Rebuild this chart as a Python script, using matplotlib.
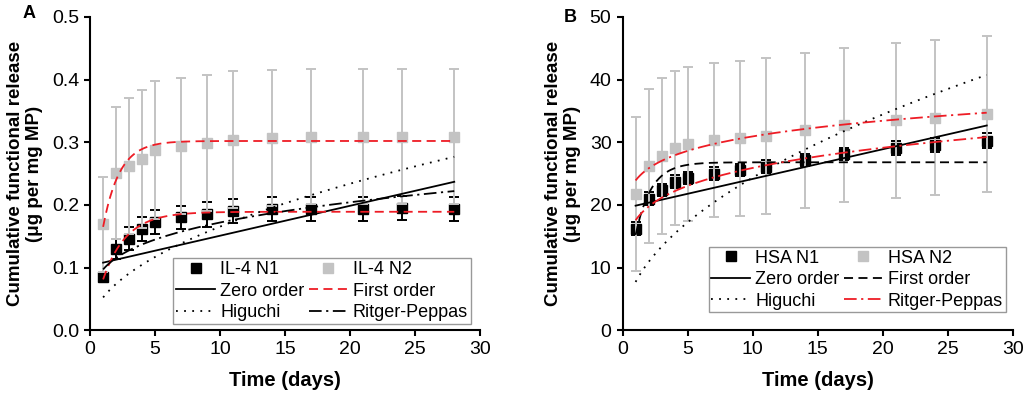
import numpy as np
import matplotlib.pyplot as plt
from matplotlib.lines import Line2D

plt.rcParams['font.family'] = ['Liberation Sans', 'DejaVu Sans']

days = [1, 2, 3, 4, 5, 7, 9, 11, 14, 17, 21, 24, 28]

# Panel A: IL-4
il4_n1 = [0.085, 0.130, 0.146, 0.161, 0.173, 0.180, 0.185, 0.190, 0.193, 0.193, 0.194, 0.195, 0.194]
il4_n1_err = [0.005, 0.016, 0.018, 0.019, 0.019, 0.019, 0.020, 0.019, 0.019, 0.019, 0.019, 0.019, 0.019]
il4_n2 = [0.169, 0.251, 0.262, 0.273, 0.287, 0.294, 0.299, 0.304, 0.307, 0.309, 0.309, 0.309, 0.309]
il4_n2_err = [0.076, 0.106, 0.109, 0.110, 0.110, 0.109, 0.109, 0.109, 0.109, 0.108, 0.108, 0.108, 0.108]

# Panel B: HSA
hsa_n1 = [16.2, 21.0, 22.4, 23.7, 24.3, 25.0, 25.6, 26.1, 27.2, 28.1, 29.1, 29.6, 30.2]
hsa_n1_err = [1.0, 1.0, 1.0, 1.0, 1.0, 1.0, 1.0, 1.0, 1.0, 1.0, 1.1, 1.1, 1.2]
hsa_n2 = [21.8, 26.2, 27.8, 29.1, 29.7, 30.3, 30.6, 31.0, 31.9, 32.7, 33.5, 33.9, 34.5]
hsa_n2_err = [12.3, 12.3, 12.4, 12.3, 12.3, 12.3, 12.3, 12.4, 12.4, 12.3, 12.4, 12.4, 12.4]

# fitted model parameters
il4_zero = (0.103, 0.00478)        # Q0, k
il4_first_n1 = (0.189, 0.56)       # Qmax, k
il4_first_n2 = (0.302, 0.79)
il4_higuchi = 0.0523               # k
il4_peppas = (0.097, 0.2485)       # k, n

hsa_zero = (19.4, 0.474)
hsa_first = (26.8, 0.837)
hsa_higuchi = 7.7
hsa_peppas_n1 = (17.55, 0.169)
hsa_peppas_n2 = (23.9, 0.112)

RED = '#ee1c25'
GRAY = '#c3c3c3'
DOT = (0, (1, 3.5))
DASH = (0, (5, 3))
DASHDOT = (0, (7, 2.5, 1.2, 2.5))

t = np.linspace(1, 28, 300)


def zero(p):
    return p[0] + p[1] * t


def first(p):
    return p[0] * (1 - np.exp(-p[1] * t))


def higuchi(k):
    return k * np.sqrt(t)


def peppas(p):
    return p[0] * t ** p[1]


def draw_data(ax, y1, e1, y2, e2):
    ax.errorbar(days, y1, yerr=e1, fmt='s', color='black', ms=6.5,
                ecolor='black', elinewidth=1.4, capsize=3.5, capthick=1.4, zorder=2)
    ax.errorbar(days, y2, yerr=e2, fmt='s', color=GRAY, ms=6.5,
                ecolor=GRAY, elinewidth=1.4, capsize=3.5, capthick=1.4, zorder=3)


def style_axes(ax, ymax, step, fmt):
    ax.set_xlim(0, 30)
    ax.set_ylim(0, ymax)
    ax.set_xticks(range(0, 31, 5))
    ax.set_yticks(np.arange(0, ymax + step / 2, step))
    ax.yaxis.set_major_formatter(plt.FormatStrFormatter(fmt))
    for s in ['top', 'right']:
        ax.spines[s].set_visible(False)
    for s in ['left', 'bottom']:
        ax.spines[s].set_linewidth(1.5)
    ax.tick_params(direction='out', length=4, width=1.5, labelsize=14, pad=4)
    ax.set_xlabel('Time (days)', fontsize=14.5, fontweight='bold', labelpad=9)
    ax.set_ylabel('Cumulative functional release\n(\u03bcg per mg MP)',
                  fontsize=13.5, fontweight='bold', labelpad=6)


def add_legend(ax, handles, labels, anchor):
    leg = ax.legend(handles, labels, ncol=2, loc='lower right', bbox_to_anchor=anchor,
                    fontsize=13, fancybox=False, framealpha=1, edgecolor='#999999',
                    handlelength=2.15, handletextpad=0.28, columnspacing=0.25,
                    labelspacing=0.25, borderpad=0.15, borderaxespad=0)
    leg.get_frame().set_linewidth(1.0)
    leg.set_zorder(5)


fig = plt.figure(figsize=(10.24, 3.94), dpi=100)
ax1 = fig.add_axes([0.088, 0.162, 0.381, 0.795])
ax2 = fig.add_axes([0.608, 0.162, 0.381, 0.795])

# Panel A
draw_data(ax1, il4_n1, il4_n1_err, il4_n2, il4_n2_err)
ax1.plot(t, zero(il4_zero), color='black', lw=1.3, zorder=4)
ax1.plot(t, first(il4_first_n1), color=RED, lw=1.3, ls=DASH, zorder=4)
ax1.plot(t, first(il4_first_n2), color=RED, lw=1.3, ls=DASH, zorder=4)
ax1.plot(t, higuchi(il4_higuchi), color='black', lw=1.3, ls=DOT, zorder=4)
ax1.plot(t, peppas(il4_peppas), color='black', lw=1.3, ls=DASHDOT, zorder=4)
style_axes(ax1, 0.5, 0.1, '%.1f')

h = [Line2D([], [], marker='s', color='black', ls='none', ms=7),
     Line2D([], [], color='black', lw=1.3),
     Line2D([], [], color='black', lw=1.3, ls=DOT),
     Line2D([], [], marker='s', color=GRAY, ls='none', ms=7),
     Line2D([], [], color=RED, lw=1.3, ls=DASH),
     Line2D([], [], color='black', lw=1.3, ls=DASHDOT)]
lab = ['IL-4 N1', 'Zero order', 'Higuchi', 'IL-4 N2', 'First order', 'Ritger-Peppas']
add_legend(ax1, h, lab, (0.975, 0.02))

# Panel B
draw_data(ax2, hsa_n1, hsa_n1_err, hsa_n2, hsa_n2_err)
ax2.plot(t, zero(hsa_zero), color='black', lw=1.3, zorder=4)
ax2.plot(t, first(hsa_first), color='black', lw=1.3, ls=DASH, zorder=4)
ax2.plot(t, higuchi(hsa_higuchi), color='black', lw=1.3, ls=DOT, zorder=4)
ax2.plot(t, peppas(hsa_peppas_n1), color=RED, lw=1.3, ls=DASHDOT, zorder=4)
ax2.plot(t, peppas(hsa_peppas_n2), color=RED, lw=1.3, ls=DASHDOT, zorder=4)
style_axes(ax2, 50, 10, '%d')

h = [Line2D([], [], marker='s', color='black', ls='none', ms=7),
     Line2D([], [], color='black', lw=1.3),
     Line2D([], [], color='black', lw=1.3, ls=DOT),
     Line2D([], [], marker='s', color=GRAY, ls='none', ms=7),
     Line2D([], [], color='black', lw=1.3, ls=DASH),
     Line2D([], [], color=RED, lw=1.3, ls=DASHDOT)]
lab = ['HSA N1', 'Zero order', 'Higuchi', 'HSA N2', 'First order', 'Ritger-Peppas']
add_legend(ax2, h, lab, (0.982, 0.057))

fig.text(0.022, 0.965, 'A', fontsize=13, fontweight='bold', va='center')
fig.text(0.551, 0.955, 'B', fontsize=13, fontweight='bold', va='center')

fig.savefig('out.png', dpi=100)
